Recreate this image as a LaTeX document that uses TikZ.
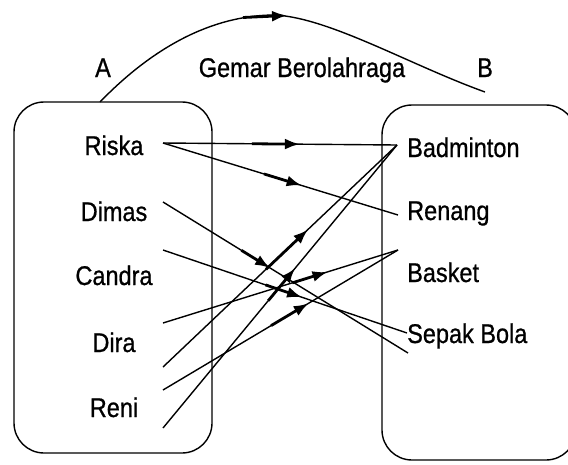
\documentclass[tikz,border=0pt]{standalone}
\usepackage{fontspec}
\setmainfont{Liberation Sans}[FakeBold=0.8]
\usetikzlibrary{arrows.meta,calc}
\newcommand\lbl[1]{\scalebox{1}[1.15]{#1}}
\newcommand\myconn[4]{%
  \draw[link] (#1) -- (#2);
  \draw[midarr] ($(#1)!#3!(#2)$) -- ($(#1)!#4!(#2)$);}
\begin{document}
\begin{tikzpicture}[x=1pt,y=-1pt,
  txt/.style={inner sep=0pt,font=\fontsize{23.5}{28}\selectfont},
  setbox/.style={draw,line width=1.4pt,rounded corners=30pt},
  link/.style={line width=1.4pt},
  midarr/.style={line width=2.8pt,-{Latex[length=15pt,width=11pt]}}]
\useasboundingbox (0,0) rectangle (568,464);
% boxes
\draw[setbox] (14,102) rectangle (212,453);
\draw[setbox] (382,105) rectangle (576,460);
% titles
\node[txt,anchor=base] (A) at (103,77) {\lbl{A}};
\node[txt,anchor=base] (title) at (302,77) {\lbl{Gemar Berolahraga}};
\node[txt,anchor=base] (B) at (485,77) {\lbl{B}};
% curve
\coordinate (cs) at (100,102);
\coordinate (cp) at (275,15);
\coordinate (ce) at (485,92);
\draw[link] (cs) .. controls (160,40) and (220,15) .. (cp) .. controls (330,18) and (410,65) .. (ce);
\coordinate (ca) at (243,17.5);
\coordinate (cb) at (287,15.5);
\draw[midarr] (ca) -- (cb);
% left names
\node[txt,anchor=base] (riska) at (114,155) {\lbl{Riska}};
\node[txt,anchor=base] (dimas) at (114,221) {\lbl{Dimas}};
\node[txt,anchor=base] (candra) at (114,285) {\lbl{Candra}};
\node[txt,anchor=base] (dira) at (114,352) {\lbl{Dira}};
\node[txt,anchor=base] (reni) at (114,417) {\lbl{Reni}};
% right names
\node[txt,anchor=base west] (badminton) at (407,157) {\lbl{Badminton}};
\node[txt,anchor=base west] (renang) at (407,220) {\lbl{Renang}};
\node[txt,anchor=base west] (basket) at (407,282) {\lbl{Basket}};
\node[txt,anchor=base west] (sepak) at (407,343) {\lbl{Sepak Bola}};
% connector end points
\coordinate (sR) at (163,143);
\coordinate (sDm) at (163,202);
\coordinate (sC) at (163,250);
\coordinate (sDa) at (163,323);
\coordinate (sDb) at (163,367);
\coordinate (sRa) at (163,390);
\coordinate (sRb) at (163,428);
\coordinate (eBad) at (397,145);
\coordinate (eRen) at (398,215);
\coordinate (eBas) at (398,250);
\coordinate (eSa) at (407,333);
\coordinate (eSb) at (408,353);
% connectors
\myconn{sR}{eBad}{0.38}{0.585}
\myconn{sR}{eRen}{0.43}{0.59}
\myconn{sDm}{eSb}{0.32}{0.437}
\myconn{sC}{eSa}{0.42}{0.57}
\myconn{sDa}{eBas}{0.55}{0.70}
\myconn{sDb}{eBad}{0.44}{0.62}
\myconn{sRa}{eBas}{0.46}{0.62}
\myconn{sRb}{eBad}{0.45}{0.565}
\end{tikzpicture}
\end{document}
